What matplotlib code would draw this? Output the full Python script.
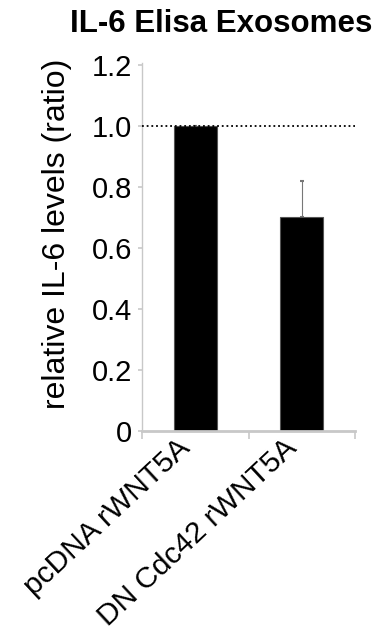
import matplotlib.pyplot as plt
from matplotlib.transforms import ScaledTranslation

plt.rcParams['font.family'] = ['Liberation Sans', 'DejaVu Sans']

groups = ["pcDNA rWNT5A", "DN Cdc42 rWNT5A"]
values = [1.0, 0.70]
errors = [0.0, 0.12]
yticks = [0, 0.2, 0.4, 0.6, 0.8, 1.0, 1.2]
ytick_labels = ["0", "0.2", "0.4", "0.6", "0.8", "1.0", "1.2"]

axis_grey = "#c8c8c8"

fig = plt.figure(figsize=(3.8, 6.34), dpi=100)
ax = fig.add_axes([0.374, 0.320, 0.560, 0.581])

x = range(len(groups))
ax.bar(x, values, width=0.4, color="black", edgecolor="#555555", linewidth=0.8, zorder=2)
ax.errorbar(list(x), values, yerr=[[0, 0], errors], fmt="none", ecolor="#777777",
            elinewidth=0.8, capsize=1.2, capthick=1.5, zorder=1)
ax.axhline(1.0, color="black", linestyle=(0, (1, 1.6)), linewidth=1.3, zorder=3)

ax.set_xlim(-0.5, 1.5)
ax.set_ylim(0, 1.207)
ax.set_yticks(yticks)
ax.set_yticklabels(ytick_labels, fontsize=21)
ax.tick_params(axis="y", length=3, color=axis_grey, width=1.2, pad=4)

# category boundaries as ticks, labels on minor ticks
ax.set_xticks([-0.5, 0.5, 1.5])
ax.set_xticklabels([])
ax.set_xticks(list(x), minor=True)
ax.set_xticklabels(groups, minor=True, fontsize=21.5, rotation=43,
                   ha="right", va="top", rotation_mode="anchor")
ax.tick_params(axis="x", which="major", length=6, color=axis_grey, width=1.2, direction="out")
ax.tick_params(axis="x", which="minor", length=0, pad=1)
shift = ScaledTranslation(-0.19, -0.01, fig.dpi_scale_trans)
for lbl in ax.get_xticklabels(minor=True):
    lbl.set_transform(lbl.get_transform() + shift)

for side in ["top", "right"]:
    ax.spines[side].set_visible(False)
ax.spines["left"].set_color(axis_grey)
ax.spines["left"].set_linewidth(1.0)
ax.spines["bottom"].set_color(axis_grey)
ax.spines["bottom"].set_linewidth(2.0)

ax.set_ylabel("relative IL-6 levels (ratio)", fontsize=23)
ax.yaxis.set_label_coords(-0.33, 0.535)
fig.text(0.583, 0.962, "IL-6 Elisa Exosomes", fontsize=22.5, fontweight="bold",
         ha="center", va="center")

fig.savefig("out.png", dpi=100)
